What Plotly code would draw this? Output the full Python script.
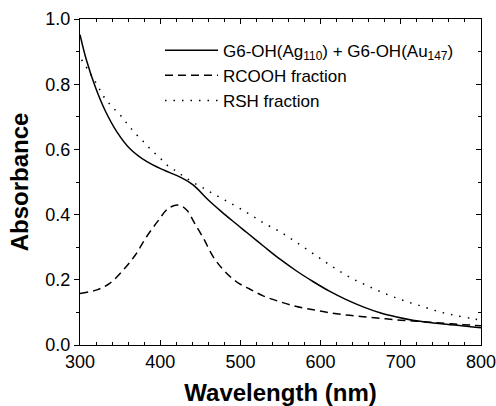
import plotly.graph_objects as go

# Solid: G6-OH(Ag110) + G6-OH(Au147)
wl_mix = [300, 308, 319, 331, 346, 362, 383, 404, 425, 441, 460, 476, 490, 508, 529, 549, 570, 591, 611, 632, 653, 674, 695, 715, 736, 757, 778, 800]
abs_mix = [0.952, 0.874, 0.792, 0.721, 0.654, 0.603, 0.563, 0.537, 0.515, 0.491, 0.445, 0.410, 0.381, 0.345, 0.303, 0.264, 0.227, 0.194, 0.165, 0.139, 0.117, 0.099, 0.086, 0.076, 0.069, 0.064, 0.058, 0.053]

# Dashed: RCOOH fraction
wl_cooh = [300, 321, 337, 354, 369, 383, 398, 410, 423, 433, 443, 454, 466, 479, 495, 512, 529, 549, 570, 591, 611, 632, 653, 674, 695, 715, 736, 757, 778, 800]
abs_cooh = [0.158, 0.169, 0.189, 0.230, 0.276, 0.332, 0.383, 0.419, 0.429, 0.414, 0.373, 0.327, 0.271, 0.230, 0.194, 0.171, 0.150, 0.133, 0.118, 0.108, 0.099, 0.092, 0.087, 0.082, 0.077, 0.074, 0.070, 0.066, 0.0625, 0.059]

# Dotted: RSH fraction
wl_sh = [302, 319, 331, 342, 352, 360, 369, 379, 389, 400, 410, 421, 431, 443, 454, 464, 475, 487, 500, 515, 530, 551, 574, 595, 615, 637, 659, 681, 704, 726, 748, 769, 791, 800]
abs_sh = [0.875, 0.808, 0.757, 0.726, 0.700, 0.675, 0.649, 0.624, 0.598, 0.573, 0.549, 0.532, 0.514, 0.496, 0.481, 0.467, 0.452, 0.436, 0.418, 0.396, 0.373, 0.345, 0.308, 0.273, 0.240, 0.207, 0.181, 0.157, 0.136, 0.119, 0.102, 0.090, 0.080, 0.076]

x_ticks = [300, 400, 500, 600, 700, 800]
y_ticks = [0.0, 0.2, 0.4, 0.6, 0.8, 1.0]
y_tick_labels = ["0.0", "0.2", "0.4", "0.6", "0.8", "1.0"]

FONT = "Liberation Sans, Arial, sans-serif"

fig = go.Figure()
fig.add_trace(go.Scatter(x=wl_mix, y=abs_mix, mode="lines", line=dict(color="black", width=1.5, shape="spline"),
                         name="G6-OH(Ag<sub>110</sub>) + G6-OH(Au<sub>147</sub>)"))
fig.add_trace(go.Scatter(x=wl_cooh, y=abs_cooh, mode="lines", line=dict(color="black", width=1.5, dash="8px,5px", shape="spline"),
                         name="RCOOH fraction"))
fig.add_trace(go.Scatter(x=wl_sh, y=abs_sh, mode="lines", line=dict(color="black", width=1.5, dash="1.5px,7px", shape="spline"),
                         name="RSH fraction"))
# invisible helper on the right axis so its inside ticks are drawn
fig.add_trace(go.Scatter(x=[300], y=[0], yaxis="y2", mode="markers", marker=dict(opacity=0), showlegend=False, hoverinfo="skip"))

fig.update_layout(
    width=496, height=406,
    margin=dict(l=80, r=15, t=19, b=61, autoexpand=False),
    paper_bgcolor="white", plot_bgcolor="white",
    font=dict(family=FONT, color="black"),
    showlegend=True,
    legend=dict(x=0.1995, y=0.958, xanchor="left", yanchor="top", bgcolor="rgba(0,0,0,0)",
                font=dict(size=17, family=FONT), tracegroupgap=0, itemwidth=53),
    xaxis=dict(range=[300, 800], tickvals=x_ticks, ticks="inside", ticklen=5, tickwidth=1, tickcolor="black",
               showline=True, linecolor="black", linewidth=1.2, mirror="ticks", showgrid=False, zeroline=False,
               tickfont=dict(size=18, family=FONT), automargin=False, ticklabeloverflow="allow",
               minor=dict(dtick=20, ticks="inside", ticklen=3, tickcolor="black", showgrid=False),
               title=dict(text="<b>Wavelength (nm)</b>", font=dict(size=24, family=FONT), standoff=13)),
    yaxis=dict(range=[0, 1.0], tickvals=y_ticks, ticktext=y_tick_labels, ticks="outside", ticklen=5, tickwidth=1, tickcolor="black",
               showline=True, linecolor="black", linewidth=1.2, mirror=True, showgrid=False, zeroline=False,
               tickfont=dict(size=18, family=FONT), automargin=False, ticklabeloverflow="allow",
               minor=dict(dtick=0.1, ticks="outside", ticklen=3, tickcolor="black", showgrid=False),
               title=dict(text="<b>Absorbance</b>", font=dict(size=24, family=FONT), standoff=9)),
    yaxis2=dict(range=[0, 1.0], overlaying="y", side="right", tickvals=y_ticks, ticks="inside", ticklen=5, tickcolor="black",
                showticklabels=False, showgrid=False, zeroline=False, showline=False, automargin=False,
                minor=dict(dtick=0.1, ticks="inside", ticklen=3, tickcolor="black", showgrid=False)),
)

fig.write_html("out.html", config={"displayModeBar": False},
               post_script="document.body.style.margin='0';document.body.style.padding='0';")
